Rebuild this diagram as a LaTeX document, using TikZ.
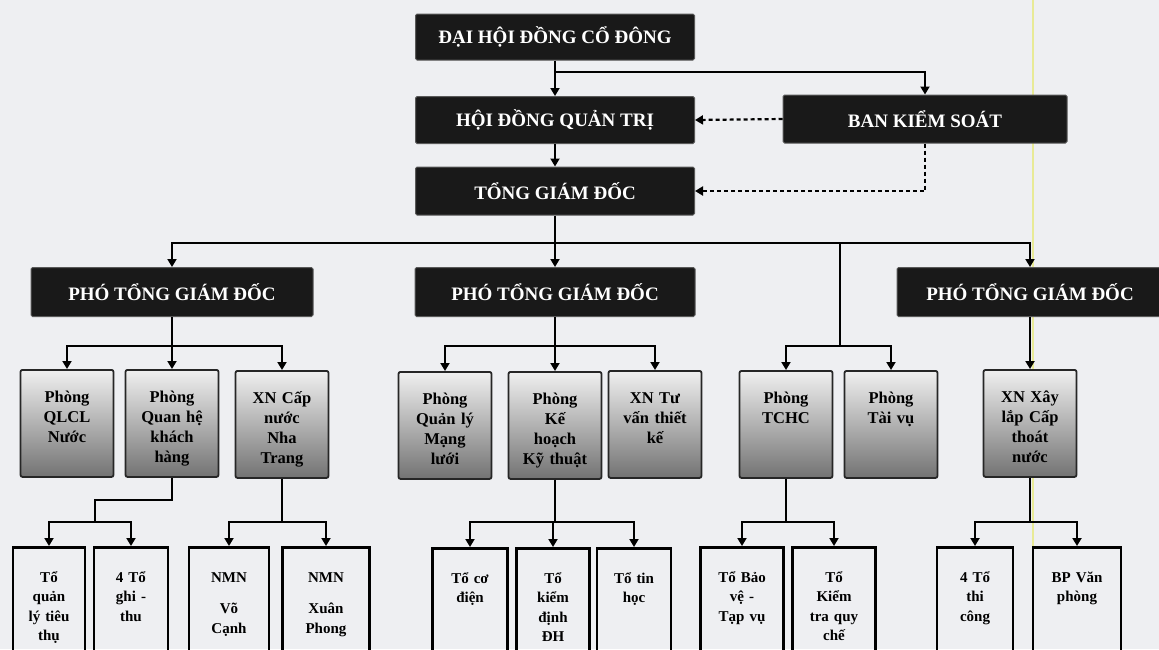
\documentclass[tikz,border=0pt]{standalone}
\usepackage{fontspec}
\setmainfont{Liberation Serif}
\usetikzlibrary{arrows.meta}

\definecolor{paper}{RGB}{238,239,242}
\definecolor{scanmark}{RGB}{232,234,150}

\tikzstyle{boss}=[fill=black!90, draw=black!65, line width=1pt, rounded corners=1.5pt, text=white, font=\fontsize{19}{23}\selectfont\bfseries, inner sep=0pt]
\tikzstyle{dept}=[draw=black!85, line width=1.8pt, rounded corners=2pt, top color=black!6, bottom color=black!55, anchor=north, inner sep=0pt, text width=93pt, align=center, text height=33pt, text depth=74pt, font=\fontsize{16.5}{20}\selectfont\bfseries]
\tikzstyle{team}=[draw=black, line width=2.6pt, anchor=north, inner sep=0pt, align=center, text height=35pt, text depth=110pt, font=\fontsize{15}{19.5}\selectfont\bfseries]
\tikzstyle{link}=[draw, line width=1.9pt, -{Triangle[length=8pt,width=9pt]}]
\tikzstyle{bus}=[draw, line width=1.9pt]
\tikzstyle{check}=[draw, line width=2.2pt, dash pattern=on 4pt off 3pt, -{Triangle[length=8pt,width=9pt]}]

\begin{document}
\begin{tikzpicture}[x=1pt, y=-1pt]
	\clip (0,0) rectangle (1159,649);
	\fill[paper] (0,0) rectangle (1159,649);
	\draw[scanmark, line width=2.5pt] (1033,0) -- (1033,649);
	% levels of the horizontal bars
	\coordinate (lv1) at (0,72);
	\coordinate (lv2) at (0,243);
	\coordinate (lv3) at (0,346);
	\coordinate (lv4) at (0,522);
	\coordinate (tap) at (840,243);
	\coordinate (kh) at (95,522);

	\node[boss, minimum width=279pt, minimum height=46pt] (dhcd) at (555,37) {ĐẠI HỘI ĐỒNG CỔ ĐÔNG};
	\node[boss, minimum width=279pt, minimum height=47pt] (hdqt) at (555,120) {HỘI ĐỒNG QUẢN TRỊ};
	\node[boss, minimum width=279pt, minimum height=48pt] (tgd) at (555,191) {TỔNG GIÁM ĐỐC};
	\node[boss, minimum width=284pt, minimum height=48pt] (bks) at (925,119) {BAN KIỂM SOÁT};
	\foreach \pos/\name/\w in {{(172,292)/pt1/282}, {(555,292)/pt2/280}, {(1030,292)/pt3/266}}
		\node[boss, minimum width=\w pt, minimum height=49pt] (\name) at \pos {PHÓ TỔNG GIÁM ĐỐC};

	\foreach \pos/\name/\txt in {{(67,369)/d1/{Phòng\\QLCL\\Nước}}, {(172,369)/d2/{Phòng\\Quan hệ\\khách\\hàng}},
			{(282,370)/d3/{XN Cấp\\nước\\Nha\\Trang}}, {(445,371)/d4/{Phòng\\Quản lý\\Mạng\\lưới}},
			{(555,371)/d5/{Phòng\\Kế\\hoạch\\Kỹ thuật}}, {(655,370)/d6/{XN Tư\\vấn thiết\\kế}},
			{(786,370)/d7/{Phòng\\TCHC}}, {(891,370)/d8/{Phòng\\Tài vụ}}, {(1030,369)/d9/{XN Xây\\lắp Cấp\\thoát\\nước}}}
		\node[dept] (\name) at \pos {\txt};

	\foreach \pos/\name/\w/\txt in {{(49,546)/t1/72/{Tổ\\quản\\lý tiêu\\thụ}}, {(131,546)/t2/74/{4 Tổ\\ghi -\\thu}},
			{(229,546)/t3/80/{NMN\\[12pt]Võ\\Cạnh}}, {(326,546)/t4/87/{NMN\\[12pt]Xuân\\Phong}},
			{(470,547)/t5/75/{Tổ cơ\\điện}}, {(553,547)/t6/73/{Tổ\\kiểm\\định\\ĐH}}, {(634,547)/t7/74/{Tổ tin\\học}},
			{(742,546)/t8/83/{Tổ Bảo\\vệ -\\Tạp vụ}}, {(834,546)/t9/83/{Tổ\\Kiểm\\tra quy\\chế}},
			{(975,546)/t10/76/{4 Tổ\\thi\\công}}, {(1077,546)/t11/88/{BP Văn\\phòng}}}
		\node[team, text width=\w pt] (\name) at \pos {\txt};

	\path[link] (dhcd) -- (hdqt);
	\path[link] (dhcd.south |- lv1) -| (bks.north);
	\path[link] (hdqt) -- (tgd);
	\path[check] (bks.west) -- (hdqt.east);
	\path[check] (bks.south) |- (tgd.east);
	\path[bus] (tgd.south) -- (tgd.south |- lv2);
	\foreach \dest in {pt1, pt2, pt3}
		\path[link] (tgd.south |- lv2) -| (\dest.north);
	\foreach \dest in {d7, d8}
		\path[link] (tap) -- (tap |- lv3) -| (\dest.north);
	\foreach \source/\dest in {pt1/d1, pt1/d2, pt1/d3, pt2/d4, pt2/d5, pt2/d6, pt3/d9}
		\path[link] (\source.south) -- (\source.south |- lv3) -| (\dest.north);
	\path[bus] (d2.south) -- ++(0,22) -| (kh);
	\foreach \dest in {t1, t2}
		\path[link] (kh) -| (\dest.north);
	\foreach \source/\dest in {d3/t3, d3/t4, d5/t5, d5/t6, d5/t7, d7/t8, d7/t9, d9/t10, d9/t11}
		\path[link] (\source.south) -- (\source.south |- lv4) -| (\dest.north);
\end{tikzpicture}
\end{document}
